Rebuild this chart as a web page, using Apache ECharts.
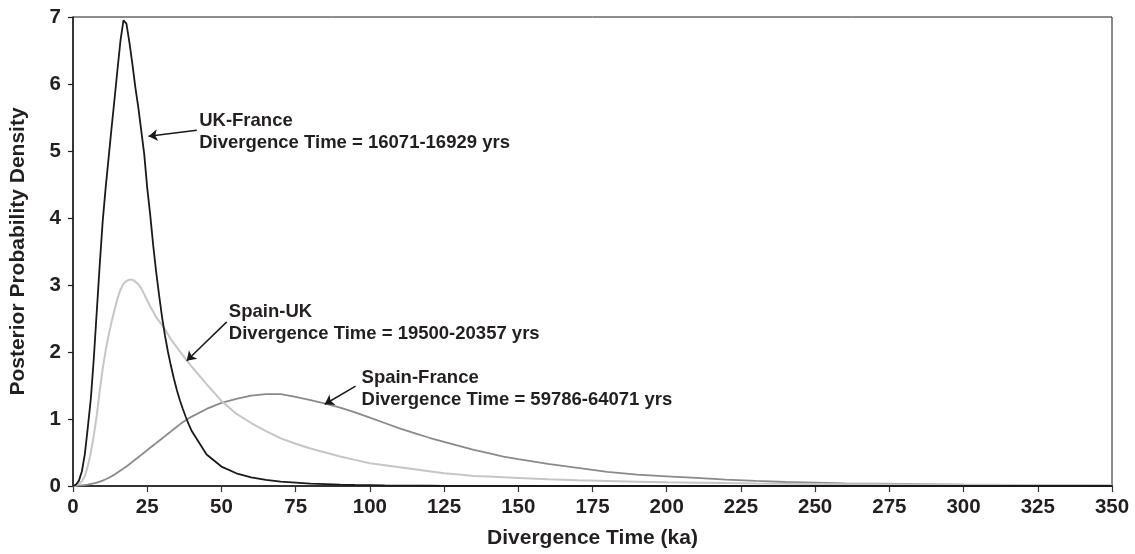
<!DOCTYPE html>
<html>
<head>
<meta charset="utf-8">
<script src="https://cdn.jsdelivr.net/npm/echarts@6/dist/echarts.min.js"></script>
<style>html,body{margin:0;padding:0;background:#fff}#c{width:1135px;height:554px}</style>
</head>
<body>
<div id="c"></div>
<script>
// Divergence time grid (ka)
const ka = [0,1,2,3,4,5,6,7,8,9,10,11,12,13,14,15,16,17,18,19,20,21,22,23,24,25,26,27,28,29,30,31,32,33,34,35,36,37,38,39,40,
  45,50,55,60,65,70,75,80,85,90,95,100,105,110,115,120,125,130,135,140,145,150,
  160,170,180,190,200,210,220,230,240,250,260,270,280,290,300,310,320,330,340,350];

const ukFrance = [0,0.02,0.08,0.22,0.48,0.88,1.3,1.9,2.6,3.3,3.95,4.45,4.9,5.35,5.78,6.22,6.65,6.95,6.9,6.62,6.3,5.95,5.65,5.3,4.95,4.45,4.05,3.6,3.2,2.85,2.52,2.24,2.0,1.79,1.6,1.43,1.28,1.15,1.03,0.92,0.82,
  0.47,0.29,0.19,0.13,0.09,0.065,0.05,0.035,0.028,0.02,0.015,0.012,0.009,0.007,0.005,0.004,0.003,0.002,0.002,0.001,0.001,0.001,
  0,0,0,0,0,0,0,0,0,0,0,0,0,0,0,0,0,0,0,0];

const spainUK = [0,0.01,0.03,0.07,0.15,0.3,0.5,0.75,1.05,1.42,1.75,2.02,2.25,2.45,2.63,2.8,2.93,3.02,3.06,3.08,3.08,3.05,3.01,2.95,2.86,2.77,2.68,2.6,2.52,2.46,2.4,2.34,2.26,2.19,2.13,2.07,2.01,1.95,1.89,1.84,1.78,
  1.52,1.27,1.08,0.94,0.82,0.71,0.63,0.56,0.5,0.44,0.39,0.34,0.31,0.28,0.25,0.22,0.19,0.17,0.15,0.14,0.13,0.12,
  0.1,0.085,0.075,0.065,0.055,0.05,0.043,0.038,0.034,0.03,0.027,0.025,0.023,0.021,0.019,0.017,0.015,0.013,0.011,0.01];

const spainFrance = [0,0.002,0.005,0.01,0.015,0.022,0.03,0.04,0.05,0.065,0.08,0.1,0.12,0.145,0.17,0.2,0.23,0.26,0.29,0.325,0.36,0.395,0.43,0.465,0.5,0.535,0.57,0.605,0.64,0.675,0.71,0.745,0.78,0.815,0.85,0.885,0.92,0.95,0.98,1.01,1.035,
  1.15,1.24,1.3,1.35,1.37,1.37,1.33,1.28,1.23,1.17,1.1,1.02,0.94,0.86,0.79,0.72,0.66,0.6,0.54,0.49,0.44,0.4,
  0.33,0.27,0.21,0.17,0.145,0.12,0.095,0.075,0.06,0.05,0.04,0.035,0.03,0.025,0.02,0.017,0.013,0.01,0.008,0.006];

const seriesNames = ['UK-France','Spain-UK','Spain-France'];
const annotationTitles = ['UK-France','Spain-UK','Spain-France'];
const annotationRanges = ['Divergence Time = 16071-16929 yrs','Divergence Time = 19500-20357 yrs','Divergence Time = 59786-64071 yrs'];
// label anchor [ka, density], arrow tail and tip [ka, density]
const labelAnchors = [[42.5,5.29],[52.5,2.44],[97.2,1.45]];
const arrowTails = [[41.7,5.31],[51.8,2.45],[95.2,1.49]];
const arrowTips = [[25.45,5.22],[38.3,1.87],[84.8,1.22]];

const xTicks = {min:0,max:350,interval:25};
const yTicks = {min:0,max:7,interval:1};

const colors = ['#1a1a1a','#c6c6c6','#8a8a8a'];
const widths = [1.8,2,1.8];
const values = [ukFrance, spainUK, spainFrance];
const textColor = '#231f20';
const fontFam = '"Liberation Sans", Arial, Helvetica, sans-serif';

const chart = echarts.init(document.getElementById('c'), null, {renderer:'canvas'});

const series = values.map((vals, i) => ({
  name: seriesNames[i],
  type: 'line',
  data: ka.map((x, j) => [x, vals[j]]),
  showSymbol: false,
  smooth: false,
  lineStyle: {color: colors[i], width: widths[i]},
  itemStyle: {color: colors[i]},
  z: 5 - i,
  markLine: {
    silent: true,
    symbol: ['none','arrow'],
    symbolSize: 9,
    label: {show: false},
    lineStyle: {color: '#1a1a1a', width: 1.5, type: 'solid'},
    itemStyle: {color: '#1a1a1a'},
    emphasis: {disabled: true},
    data: [[{coord: arrowTails[i]}, {coord: arrowTips[i]}]]
  },
  markPoint: {
    silent: true,
    symbol: 'circle',
    symbolSize: 0,
    label: {
      show: true,
      position: 'right',
      distance: 0,
      align: 'left',
      verticalAlign: 'middle',
      color: textColor,
      fontFamily: fontFam,
      fontWeight: 'bold',
      fontSize: 18.5,
      lineHeight: 22,
      formatter: annotationTitles[i] + '\n' + annotationRanges[i]
    },
    data: [{coord: labelAnchors[i]}]
  }
}));

chart.setOption({
  animation: false,
  backgroundColor: '#fff',
  grid: {left: 71, right: 23, top: 17, bottom: 67, show: true, borderColor: '#1a1a1a', borderWidth: 1, backgroundColor: 'transparent'},
  xAxis: {
    type: 'value', min: xTicks.min, max: xTicks.max, interval: xTicks.interval,
    name: 'Divergence Time (ka)', nameLocation: 'middle', nameGap: 42,
    nameTextStyle: {color: textColor, fontFamily: fontFam, fontWeight: 'bold', fontSize: 21},
    axisLine: {show: true, lineStyle: {color: '#333', width: 2}},
    axisTick: {show: true, inside: false, length: 6, lineStyle: {color: '#333', width: 1.2}},
    axisLabel: {color: textColor, fontFamily: fontFam, fontWeight: 'bold', fontSize: 20.5, margin: 11},
    splitLine: {show: false}
  },
  yAxis: {
    type: 'value', min: yTicks.min, max: yTicks.max, interval: yTicks.interval,
    name: 'Posterior Probability Density', nameLocation: 'middle', nameGap: 44, nameRotate: 90,
    nameTextStyle: {color: textColor, fontFamily: fontFam, fontWeight: 'bold', fontSize: 21},
    axisLine: {show: true, lineStyle: {color: '#1a1a1a', width: 1.5}},
    axisTick: {show: true, inside: false, length: 5, lineStyle: {color: '#1a1a1a', width: 1.2}},
    axisLabel: {color: textColor, fontFamily: fontFam, fontWeight: 'bold', fontSize: 20.5, margin: 12},
    splitLine: {show: false}
  },
  series: series
});
</script>
</body>
</html>
